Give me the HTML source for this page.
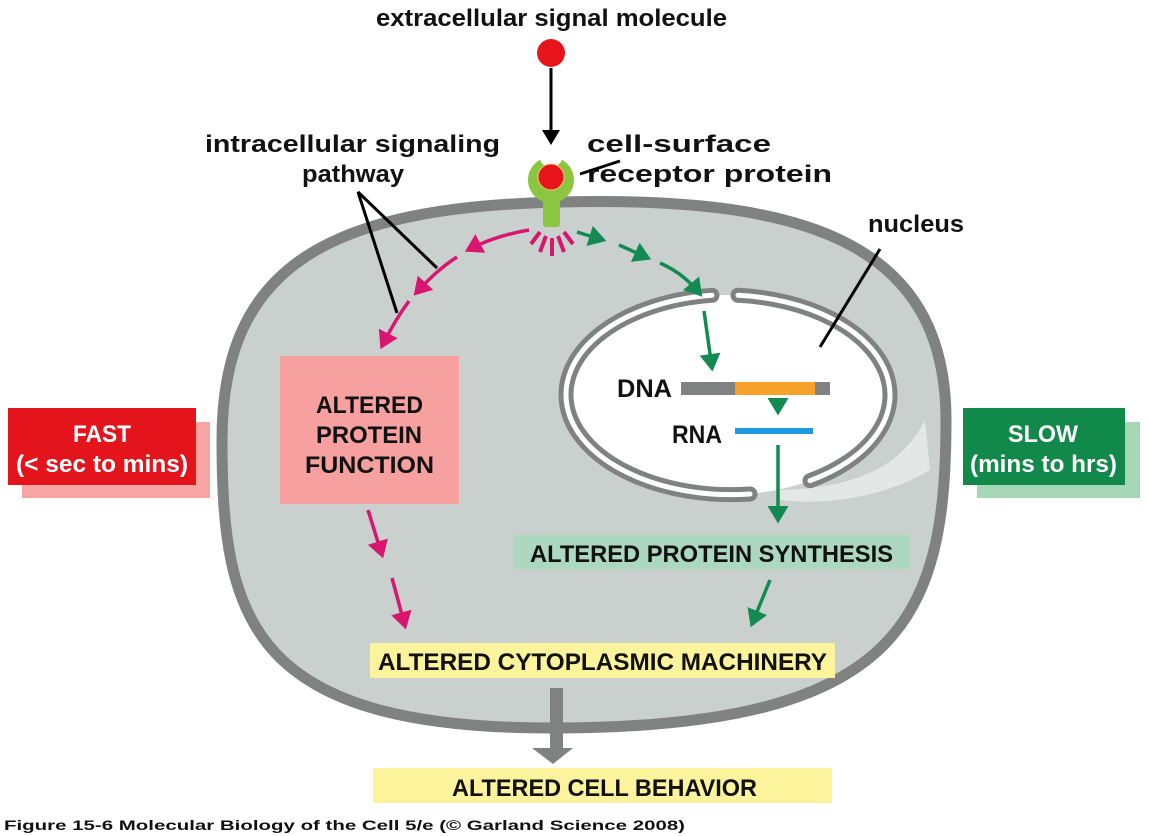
<!DOCTYPE html>
<html><head><meta charset="utf-8"><style>
html,body{margin:0;padding:0;background:#fff;}
svg{display:block;}
text{font-family:"Liberation Sans",sans-serif;font-weight:bold;}
</style></head><body>
<svg width="1150" height="836" viewBox="0 0 1150 836" xmlns="http://www.w3.org/2000/svg">
<defs>
<marker id="mg" markerWidth="6" markerHeight="6" refX="4" refY="3" orient="auto" markerUnits="strokeWidth"><path d="M0,0 L5,3 L0,6 Z" fill="#d8166f"/></marker>
<marker id="gr" markerWidth="6" markerHeight="6" refX="4" refY="3" orient="auto" markerUnits="strokeWidth"><path d="M0,0 L5,3 L0,6 Z" fill="#138a52"/></marker>
<marker id="bk" markerWidth="6" markerHeight="6" refX="4" refY="3" orient="auto" markerUnits="strokeWidth"><path d="M0,0 L5,3 L0,6 Z" fill="#000"/></marker>
</defs>
<rect x="22" y="422" width="188" height="76" fill="#f6a5a3"/>
<rect x="8" y="408" width="188" height="77" fill="#e3141c"/>
<text x="73" y="442" font-size="24" fill="#fff" textLength="58" lengthAdjust="spacingAndGlyphs">FAST</text>
<text x="16" y="472" font-size="24" fill="#fff" textLength="172" lengthAdjust="spacingAndGlyphs">(&lt; sec to mins)</text>
<rect x="977" y="422" width="163" height="76" fill="#a6d8b8"/>
<rect x="963" y="408" width="162" height="77" fill="#11894a"/>
<text x="1008" y="442" font-size="24" fill="#fff" textLength="70" lengthAdjust="spacingAndGlyphs">SLOW</text>
<text x="970" y="472" font-size="24" fill="#fff" textLength="147" lengthAdjust="spacingAndGlyphs">(mins to hrs)</text>
<path d="M 560 202 C 800 196, 946 240, 946 420 C 946 620, 900 726, 560 728 C 250 730, 222 620, 222 440 C 222 265, 330 207, 560 202 Z" fill="#c9d0cd" stroke="#7f8281" stroke-width="11"/>
<path d="M 780 490 C 850 488, 900 470, 925 420 L 930 470 C 880 500, 820 505, 780 500 Z" fill="#e3e7e5"/>
<ellipse cx="725" cy="395" rx="165" ry="100" fill="#fff"/>
<g fill="none" stroke-linecap="round">
<path d="M 712 295.3 A 165 100 0 0 0 750 494" stroke="#7f8281" stroke-width="15"/>
<path d="M 712 295.3 A 165 100 0 0 0 750 494" stroke="#fff" stroke-width="5"/>
<path d="M 738 295.3 A 165 100 0 0 1 810 480.7" stroke="#7f8281" stroke-width="15"/>
<path d="M 738 295.3 A 165 100 0 0 1 810 480.7" stroke="#fff" stroke-width="5"/>
</g>
<text x="617" y="397" font-size="25" fill="#111" textLength="55" lengthAdjust="spacingAndGlyphs">DNA</text>
<rect x="681" y="382" width="149" height="13" fill="#7f8281"/>
<rect x="735" y="382" width="80" height="13" fill="#f7a12a"/>
<text x="672" y="443" font-size="25" fill="#111" textLength="50" lengthAdjust="spacingAndGlyphs">RNA</text>
<rect x="735" y="428" width="78" height="6" fill="#1e9ae0"/>
<g stroke="#138a52" stroke-width="3.5" fill="none">
<path d="M 577 232 L 603 240" marker-end="url(#gr)"/>
<path d="M 619 245 L 648 258" marker-end="url(#gr)"/>
<path d="M 660 263 C 680 272, 690 282, 700 294" marker-end="url(#gr)"/>
<path d="M 704 311 L 712 368" marker-end="url(#gr)"/>
<path d="M 778 398 L 778 412" marker-end="url(#gr)"/>
<path d="M 778 445 L 778 520" marker-end="url(#gr)"/>
<path d="M 770 580 L 752 624" marker-end="url(#gr)"/>
</g>
<g stroke="#d8166f" stroke-width="3.5" fill="none">
<path d="M 529 230 C 505 234, 485 241, 468 250" marker-end="url(#mg)"/>
<path d="M 457 257 C 440 268, 428 280, 416 293" marker-end="url(#mg)"/>
<path d="M 409 301 C 398 316, 390 330, 382 346" marker-end="url(#mg)"/>
<path d="M 368 510 L 382 555" marker-end="url(#mg)"/>
<path d="M 392 578 L 405 626" marker-end="url(#mg)"/>
<path d="M 540 232 L 531 244 M 546 236 L 540 252 M 552 238 L 552 256 M 558 236 L 564 252 M 564 232 L 573 244" stroke-width="4"/>
</g>
<rect x="280" y="356" width="179" height="148" fill="#f6a19f"/>
<text x="316" y="413" font-size="24" fill="#111" textLength="107" lengthAdjust="spacingAndGlyphs">ALTERED</text>
<text x="316" y="443" font-size="24" fill="#111" textLength="106" lengthAdjust="spacingAndGlyphs">PROTEIN</text>
<text x="305" y="473" font-size="24" fill="#111" textLength="129" lengthAdjust="spacingAndGlyphs">FUNCTION</text>
<rect x="513" y="535" width="397" height="34" fill="#acd8c0"/>
<text x="530" y="562" font-size="24" fill="#111" textLength="363" lengthAdjust="spacingAndGlyphs">ALTERED PROTEIN SYNTHESIS</text>
<rect x="370" y="643" width="465" height="35" fill="#fbf49c"/>
<text x="378" y="670" font-size="24" fill="#111" textLength="449" lengthAdjust="spacingAndGlyphs">ALTERED CYTOPLASMIC MACHINERY</text>
<path d="M 550 688 L 563 688 L 563 748 L 573 748 L 553 764 L 532 748 L 550 748 Z" fill="#7f8281"/>
<rect x="373" y="768" width="459" height="35" fill="#fbf49c"/>
<text x="452" y="796" font-size="24" fill="#111" textLength="305" lengthAdjust="spacingAndGlyphs">ALTERED CELL BEHAVIOR</text>
<rect x="543" y="190" width="17" height="37" rx="3" fill="#8cc53f"/>
<circle cx="551" cy="180" r="23" fill="#8cc53f"/>
<ellipse cx="551" cy="158" rx="11" ry="9" fill="#fff"/>
<circle cx="551" cy="177" r="13" fill="#e8141c" stroke="#f4c26b" stroke-width="1"/>
<circle cx="551" cy="53" r="14" fill="#e8141c"/>
<path d="M 551 68 L 551 142" stroke="#000" stroke-width="3" marker-end="url(#bk)"/>
<text x="376" y="26" font-size="24" fill="#111" textLength="351" lengthAdjust="spacingAndGlyphs">extracellular signal molecule</text>
<text x="587" y="152" font-size="24" fill="#111" textLength="184" lengthAdjust="spacingAndGlyphs">cell-surface</text>
<text x="587" y="182" font-size="24" fill="#111" textLength="245" lengthAdjust="spacingAndGlyphs">receptor protein</text>
<path d="M 580 174 L 620 161" stroke="#000" stroke-width="3"/>
<text x="205" y="152" font-size="24" fill="#111" textLength="295" lengthAdjust="spacingAndGlyphs">intracellular signaling</text>
<text x="302" y="182" font-size="24" fill="#111" textLength="102" lengthAdjust="spacingAndGlyphs">pathway</text>
<path d="M 437 268 L 358 192 L 397 313" stroke="#000" stroke-width="3" fill="none"/>
<text x="868" y="232" font-size="24" fill="#111" textLength="96" lengthAdjust="spacingAndGlyphs">nucleus</text>
<path d="M 880 249 L 820 347" stroke="#000" stroke-width="3"/>
<text x="4" y="830" font-size="14" fill="#111" textLength="681" lengthAdjust="spacingAndGlyphs">Figure 15-6  Molecular Biology of the Cell 5/e (© Garland Science 2008)</text>
</svg>
</body></html>
